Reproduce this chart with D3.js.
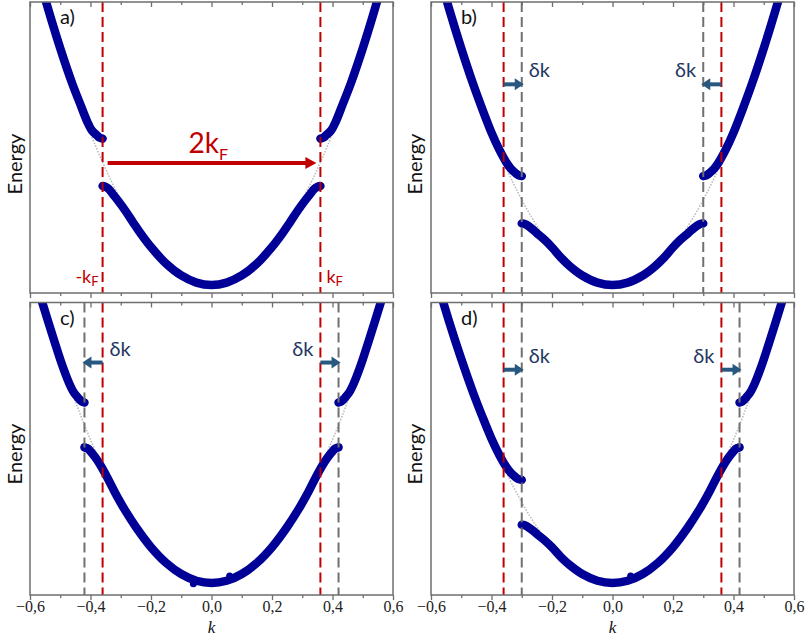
<!DOCTYPE html>
<html>
<head>
<meta charset="utf-8">
<script src="https://cdn.jsdelivr.net/npm/d3@7"></script>
<style>
	body { margin: 0; background: #fff; }
	svg { display: block; }
</style>
</head>
<body>
<svg id="chart" width="806" height="637"></svg>
<script>

	/* --------------------- data -------------------------------------------- */

	// k axis
	const majorTicks = [-0.6, -0.4, -0.2, 0, 0.2, 0.4, 0.6];
	const minorTicks = [-0.5, -0.3, -0.1, 0.1, 0.3, 0.5];
	const tickLabels = ['\u22120,6', '\u22120,4', '\u22120,2', '0,0', '0,2', '0,4', '0,6'];

	const kF = 0.36;
	const panelNames = ['a)', 'b)', 'c)', 'd)'];
	const gapLeft = [0.36, 0.30, 0.42, 0.30];     // |k| where the left gap opens
	const gapRight = [0.36, 0.30, 0.42, 0.42];    // |k| where the right gap opens
	const shiftedLines = [[], [-0.30, 0.30], [-0.42, 0.42], [-0.30, 0.42]];
	const arrowLevel = [0.129, 0.212, 0.246, 0.238];   // energy of the arrows
	// small kinks near the band bottom, [k, E]
	const kinks = [[], [], [[-0.06, -0.0008], [0.06, 0.0078]], [[0.06, 0.0078]]];

	// upper band left of the gap, [k, E]
	const upper036 = [[-0.58, 0.3364], [-0.54, 0.2916], [-0.50, 0.25], [-0.46, 0.2125], [-0.435, 0.192],
		[-0.41, 0.172], [-0.395, 0.163], [-0.38, 0.1585], [-0.37, 0.1557], [-0.36, 0.1546]];
	const upper030 = [[-0.58, 0.3364], [-0.54, 0.2916], [-0.50, 0.25], [-0.46, 0.2116], [-0.43, 0.1855],
		[-0.40, 0.161], [-0.375, 0.1435], [-0.35, 0.129], [-0.335, 0.1225], [-0.32, 0.118], [-0.31, 0.1158], [-0.30, 0.115]];
	const upper042 = [[-0.58, 0.3364], [-0.56, 0.3136], [-0.52, 0.2704], [-0.495, 0.2445], [-0.47, 0.2225],
		[-0.455, 0.2125], [-0.44, 0.2062], [-0.43, 0.2028], [-0.42, 0.2014]];

	// lower band from the left gap to k = 0, [k, E]
	const lower036 = [[-0.36, 0.1046], [-0.35, 0.1037], [-0.34, 0.1015], [-0.325, 0.0955], [-0.31, 0.0895],
		[-0.285, 0.0785], [-0.26, 0.0665], [-0.23, 0.0525], [-0.20, 0.04], [-0.15, 0.0225], [-0.10, 0.01], [-0.05, 0.0025], [0, 0]];
	const lower030 = [[-0.30, 0.065], [-0.29, 0.0644], [-0.28, 0.0627], [-0.265, 0.059], [-0.25, 0.0547],
		[-0.225, 0.0478], [-0.20, 0.0398], [-0.17, 0.0288], [-0.14, 0.0196], [-0.10, 0.01], [-0.05, 0.0025], [0, 0]];
	const lower042 = [[-0.42, 0.1514], [-0.41, 0.1501], [-0.40, 0.147], [-0.385, 0.1405], [-0.37, 0.133],
		[-0.345, 0.118], [-0.32, 0.1015], [-0.29, 0.0835], [-0.25, 0.0625], [-0.20, 0.04], [-0.15, 0.0225],
		[-0.10, 0.01], [-0.05, 0.0025], [0, 0]];

	// grey dotted free band across the gap, [k, E]
	const bridge036 = [[-0.41, 0.1681], [-0.385, 0.1482], [-0.36, 0.1296], [-0.335, 0.1122], [-0.31, 0.0961]];
	const bridge030 = [[-0.36, 0.1296], [-0.33, 0.1089], [-0.30, 0.09], [-0.27, 0.0729], [-0.24, 0.0576]];
	const bridge042 = [[-0.47, 0.2209], [-0.445, 0.198], [-0.42, 0.1764], [-0.395, 0.156], [-0.37, 0.1369]];

	const bands = new Map([
		[0.36, {upper: upper036, lower: lower036, bridge: bridge036}],
		[0.30, {upper: upper030, lower: lower030, bridge: bridge030}],
		[0.42, {upper: upper042, lower: lower042, bridge: bridge042}]
	]);

	/* --------------------- layout ---------------------- */

	const cols = [[30, 393], [431, 794]];
	const rows = [[2, 293], [302.5, 595]];
	const eDomains = [[-0.0085, 0.299], [-0.0134, 0.313]];
	const energyY = [164, 454];
	const energyX = [22, 422];

	const blue = '#000096';
	const red = '#c00000';
	const grey = '#707070';
	const arrowBlue = '#28577f';
	const textBlue = '#1f3864';
	const frameGrey = '#6e6e6e';
	const sans = 'Lato, "Open Sans", sans-serif';
	const serif = '"Liberation Serif", "Times New Roman", serif';

	const mirror = pts => pts.map(p => [-p[0], p[1]]);

	let svg = d3.select('#chart');

	panelNames.forEach(function(name, i) {
		let col = i % 2, row = Math.floor(i / 2);
		let [x0, x1] = cols[col], [y0, y1] = rows[row];

		let x = d3.scaleLinear().domain([-0.6, 0.6]).range([x0, x1]);
		let y = d3.scaleLinear().domain(eDomains[row]).range([y1, y0]);

		let g = svg.append('g');
		let clipId = 'clip' + i;
		svg.append('clipPath').attr('id', clipId)
			.append('rect')
			.attr('x', x0).attr('y', y0)
			.attr('width', x1 - x0).attr('height', y1 - y0);

		let plot = g.append('g').attr('clip-path', 'url(#' + clipId + ')');

		let line = d3.line()
			.x(d => x(d[0]))
			.y(d => y(d[1]))
			.curve(d3.curveCatmullRom.alpha(0.5));

		let L = bands.get(gapLeft[i]);
		let R = bands.get(gapRight[i]);

		// grey dotted free-electron parabola inside the gaps
		[L.bridge, mirror(R.bridge)].forEach(function(b) {
			plot.append('path')
				.attr('d', line(b))
				.attr('fill', 'none')
				.attr('stroke', '#b8b8b8')
				.attr('stroke-width', 1.5)
				.attr('stroke-dasharray', '1.5,1.5');
		});

		// the three band pieces
		let segs = [L.upper, mirror(R.upper), L.lower.concat(mirror(R.lower).reverse().slice(1))];
		segs.forEach(function(s) {
			plot.append('path')
				.attr('d', line(s))
				.attr('fill', 'none')
				.attr('stroke', blue)
				.attr('stroke-width', 8.5)
				.attr('stroke-linecap', 'round')
				.attr('stroke-linejoin', 'round');
		});
		plot.selectAll('circle.kink')
			.data(kinks[i])
			.enter().append('circle')
			.attr('class', 'kink')
			.attr('cx', d => x(d[0]))
			.attr('cy', d => y(d[1]))
			.attr('r', 3.5)
			.attr('fill', blue);

		// dashed verticals: shifted gap positions (grey) and +-kF (red)
		shiftedLines[i].forEach(function(k) {
			plot.append('line')
				.attr('x1', x(k)).attr('x2', x(k))
				.attr('y1', y0).attr('y2', y1)
				.attr('stroke', grey)
				.attr('stroke-width', 2)
				.attr('stroke-dasharray', '10,5');
		});
		[-kF, kF].forEach(function(k) {
			plot.append('line')
				.attr('x1', x(k)).attr('x2', x(k))
				.attr('y1', y0).attr('y2', y1)
				.attr('stroke', red)
				.attr('stroke-width', 2)
				.attr('stroke-dasharray', '10,5');
		});

		if (i === 0) {
			// 2kF nesting vector
			let ay = y(arrowLevel[0]);
			let xs = x(-kF) + 5, xt = x(kF) - 4;
			g.append('line')
				.attr('x1', xs).attr('x2', xt - 10)
				.attr('y1', ay).attr('y2', ay)
				.attr('stroke', red).attr('stroke-width', 4);
			g.append('polygon')
				.attr('points', [[xt, ay], [xt - 11, ay - 6], [xt - 11, ay + 6]].join(' '))
				.attr('fill', red);
			let t = g.append('text')
				.attr('x', x(0) - 23).attr('y', ay - 10)
				.style('font-family', sans).style('font-size', '28px')
				.attr('fill', red);
			t.append('tspan').text('2k');
			t.append('tspan').attr('dy', 7).style('font-size', '16px').text('F');

			let lk = g.append('text')
				.attr('x', x(-kF) - 4).attr('y', y1 - 10)
				.attr('text-anchor', 'end')
				.style('font-family', sans).style('font-size', '18px')
				.attr('fill', red);
			lk.append('tspan').text('-k');
			lk.append('tspan').attr('dy', 3).style('font-size', '13px').text('F');

			let rk = g.append('text')
				.attr('x', x(kF) + 6).attr('y', y1 - 10)
				.style('font-family', sans).style('font-size', '18px')
				.attr('fill', red);
			rk.append('tspan').text('k');
			rk.append('tspan').attr('dy', 3).style('font-size', '13px').text('F');
		} else {
			// delta k shift arrows from +-kF to the new gap position
			let ay = y(arrowLevel[i]);
			[[-kF, shiftedLines[i][0]], [kF, shiftedLines[i][1]]].forEach(function(p) {
				let from = p[0], to = p[1];
				let dir = to > from ? 1 : -1;
				let tip = x(to) + dir * 2;
				g.append('line')
					.attr('x1', x(from)).attr('x2', tip - dir * 8)
					.attr('y1', ay).attr('y2', ay)
					.attr('stroke', arrowBlue).attr('stroke-width', 4);
				g.append('polygon')
					.attr('points', [[tip, ay], [tip - dir * 9, ay - 6], [tip - dir * 9, ay + 6]].join(' '))
					.attr('fill', arrowBlue);

				let inner = Math.abs(from) < Math.abs(to) ? from : to;
				g.append('text')
					.attr('x', inner < 0 ? x(inner) + 7 : x(inner) - 7)
					.attr('y', ay - 7)
					.attr('text-anchor', inner < 0 ? 'start' : 'end')
					.style('font-family', sans).style('font-size', '20px')
					.attr('fill', textBlue)
					.text('\u03b4k');
			});
		}

		// panel letter
		g.append('text')
			.attr('x', x0 + 30).attr('y', y0 + 22)
			.style('font-family', sans).style('font-size', '20px')
			.attr('fill', '#111')
			.text(name);

		// frame
		g.append('rect')
			.attr('x', x0).attr('y', y0)
			.attr('width', x1 - x0).attr('height', y1 - y0)
			.attr('fill', 'none')
			.attr('stroke', frameGrey).attr('stroke-width', 1.5);

		// ticks: top ones point inwards, bottom ones outwards
		let addAxis = function(ypos, values, size, labelled) {
			let ax = d3.axisBottom(x).tickValues(values).tickSize(size).tickSizeOuter(0)
				.tickFormat(d => labelled ? tickLabels[majorTicks.indexOf(d)] : '');
			let a = g.append('g').attr('transform', 'translate(0,' + ypos + ')').call(ax);
			a.select('.domain').remove();
			a.selectAll('.tick line').attr('stroke', frameGrey).attr('stroke-width', 1.3);
			a.selectAll('.tick text')
				.attr('y', 6)
				.attr('dy', '0.71em')
				.style('font-family', serif)
				.style('font-size', '16px')
				.attr('fill', '#222');
		};
		addAxis(y0, majorTicks, 5, false);
		addAxis(y0, minorTicks, 3, false);
		addAxis(y1, majorTicks, 5, row === 1);
		addAxis(y1, minorTicks, 3, false);

		// axis titles
		svg.append('text')
			.attr('transform', 'translate(' + energyX[col] + ',' + energyY[row] + ') rotate(-90)')
			.attr('text-anchor', 'middle')
			.style('font-family', sans).style('font-size', '20px')
			.attr('fill', '#111')
			.text('Energy');

		if (row === 1) {
			svg.append('text')
				.attr('x', x(0)).attr('y', 633)
				.attr('text-anchor', 'middle')
				.style('font-family', serif)
				.style('font-style', 'italic')
				.style('font-size', '17px')
				.attr('fill', '#111')
				.text('k');
		}
	});

</script>
</body>
</html>
